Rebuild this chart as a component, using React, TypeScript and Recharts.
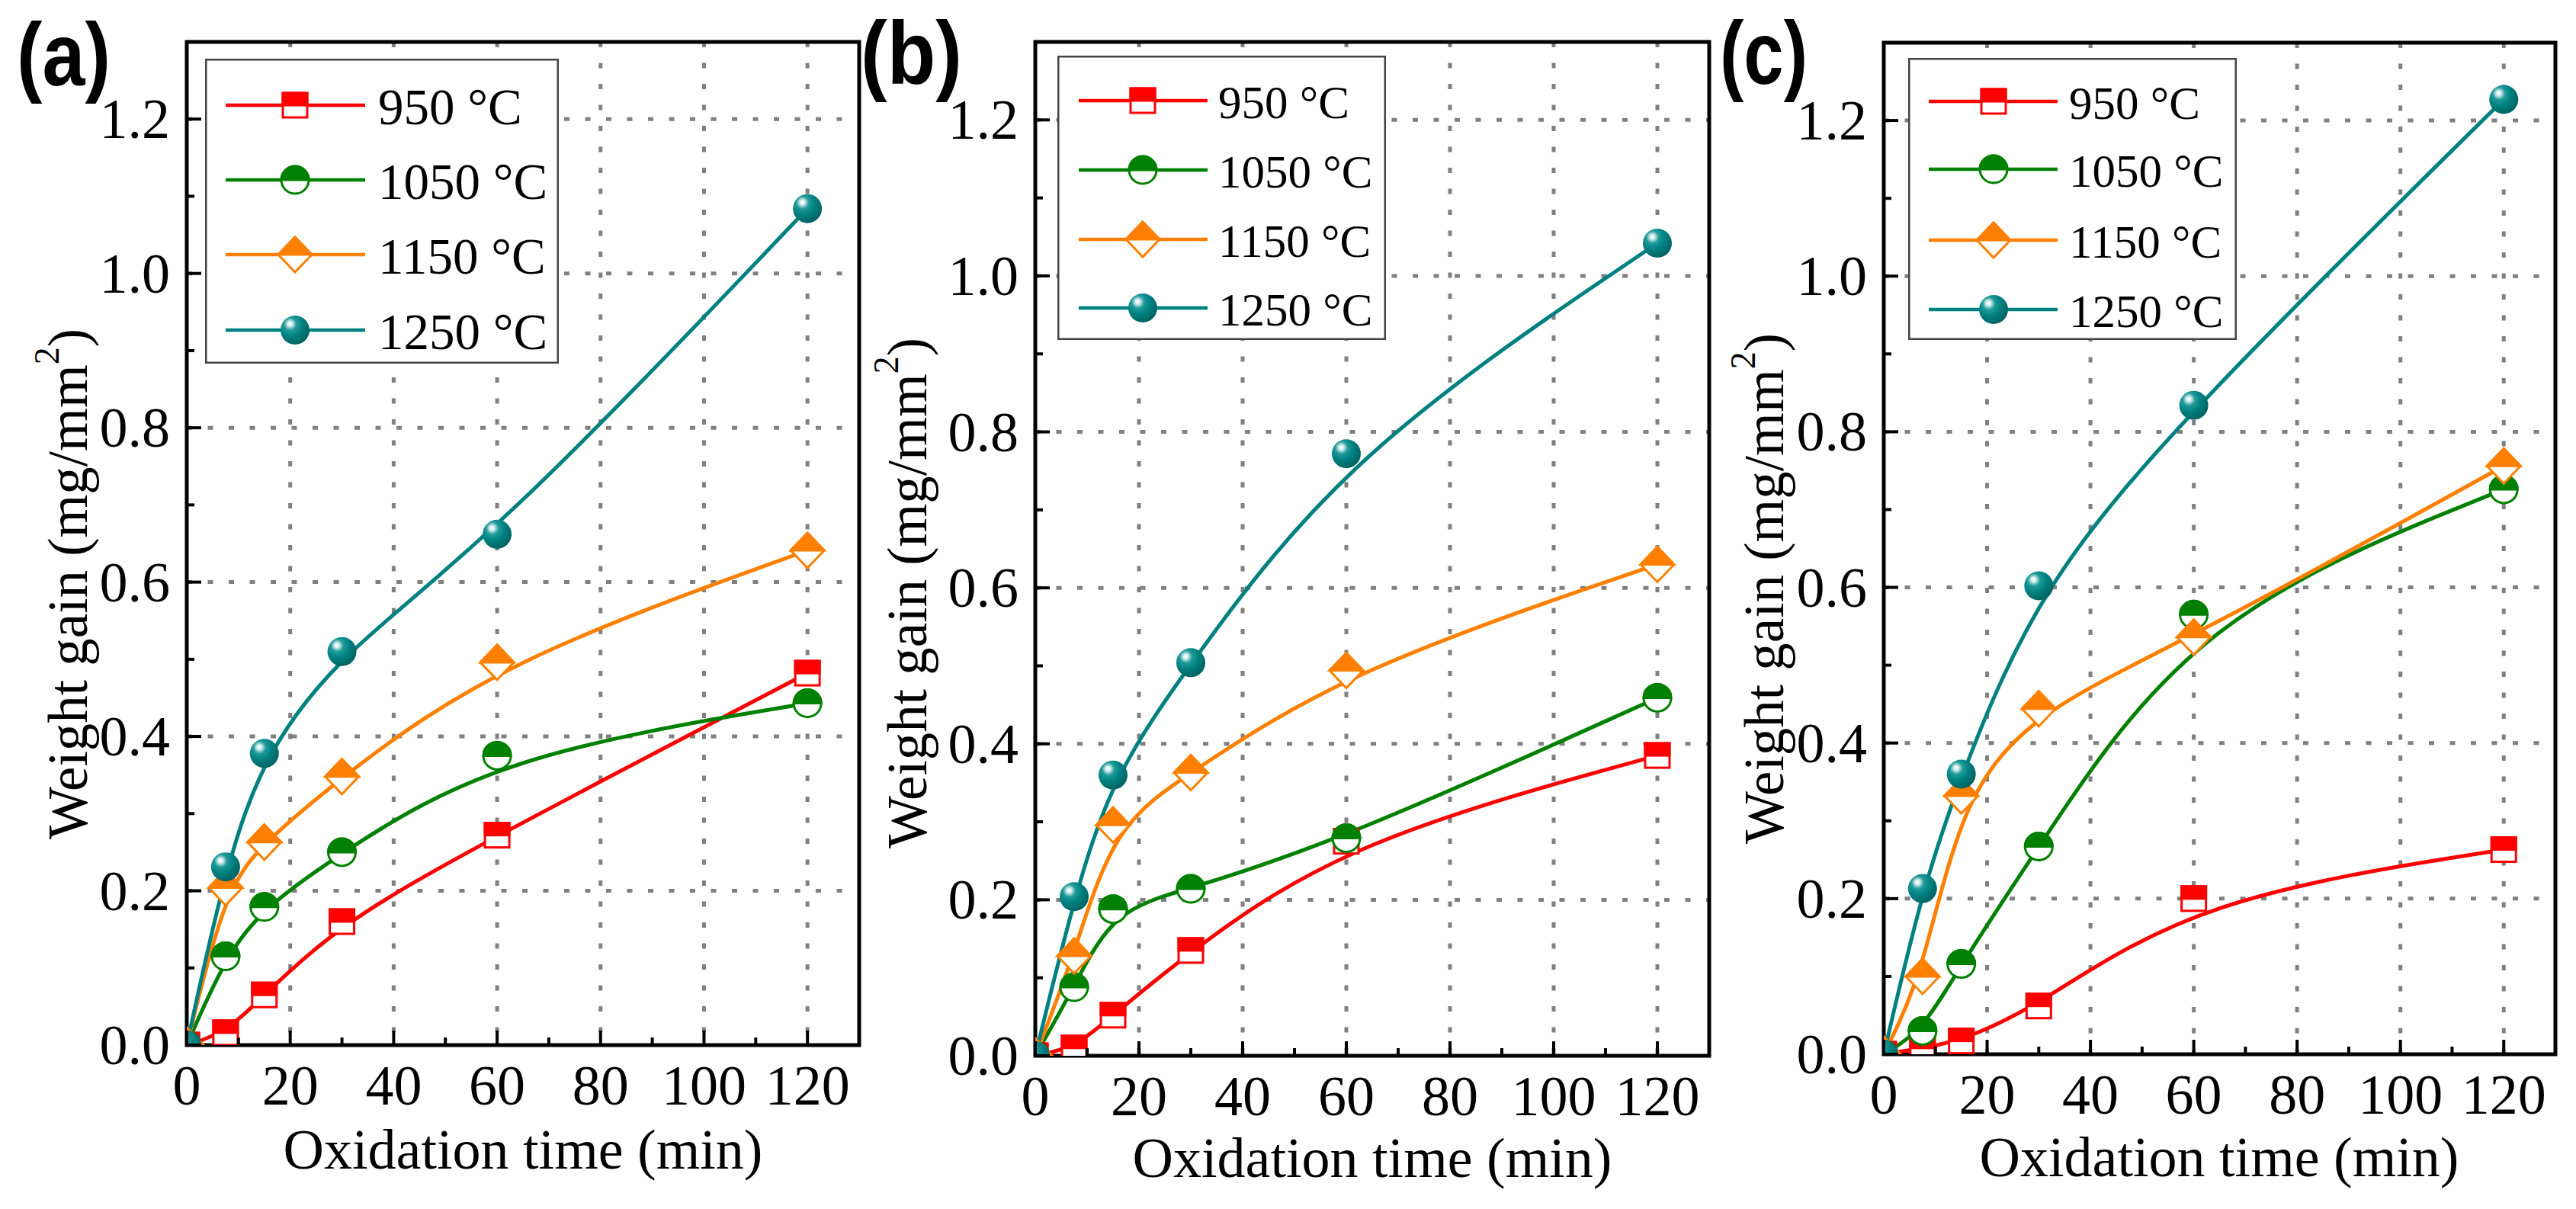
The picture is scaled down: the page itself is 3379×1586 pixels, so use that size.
import React from 'react';
import { LineChart, Line, XAxis, YAxis, CartesianGrid, ReferenceArea, Legend } from 'recharts';

// ---------- data ----------
const TIME = [0, 7.5, 15, 30, 60, 120];
const SERIES_NAMES = ['950 °C', '1050 °C', '1150 °C', '1250 °C'];
const SERIES_KEYS = ['s950', 's1050', 's1150', 's1250'];
const SERIES_COLORS = ['#FF0000', '#008000', '#FF8000', '#008080'];
const SERIES_MARKERS = ['square', 'circle', 'diamond', 'sphere'];

const A_950 = [0, 0.016, 0.065, 0.16, 0.272, 0.482];
const A_1050 = [0, 0.115, 0.179, 0.25, 0.375, 0.443];
const A_1150 = [0, 0.204, 0.263, 0.348, 0.496, 0.641];
const A_1250 = [0, 0.231, 0.378, 0.51, 0.662, 1.084];

const B_950 = [0, 0.01, 0.052, 0.135, 0.275, 0.385];
const B_1050 = [0, 0.088, 0.188, 0.214, 0.279, 0.459];
const B_1150 = [0, 0.128, 0.296, 0.363, 0.494, 0.63];
const B_1250 = [0, 0.204, 0.36, 0.504, 0.772, 1.042];

const C_950 = [0, 0.008, 0.017, 0.062, 0.2, 0.263];
const C_1050 = [0, 0.03, 0.116, 0.267, 0.565, 0.726];
const C_1150 = [0, 0.1, 0.332, 0.444, 0.536, 0.756];
const C_1250 = [0, 0.213, 0.36, 0.602, 0.834, 1.227];

const X_TICKS = [0, 10, 20, 30, 40, 50, 60, 70, 80, 90, 100, 110, 120];
const Y_TICKS = [0, 0.1, 0.2, 0.3, 0.4, 0.5, 0.6, 0.7, 0.8, 0.9, 1.0, 1.1, 1.2];
const GRID_X = [20, 40, 60, 80, 100, 120];
const GRID_Y = [0.2, 0.4, 0.6, 0.8, 1.0, 1.2];
const X_DOMAIN = [0, 130];
const Y_DOMAIN = [0, 1.3];

const X_TITLE = 'Oxidation time (min)';
const PANEL_LETTERS = ['(a)', '(b)', '(c)'];

function buildRows(series: number[][]) {
  return TIME.map((t, i) => {
    const row: any = { t };
    SERIES_KEYS.forEach((k, j) => {
      row[k] = series[j][i];
    });
    return row;
  });
}

const SERIF = "'Times New Roman', 'Liberation Serif', serif";

// ---------- markers ----------
function Marker({ kind, color, cx, cy, gid }: any) {
  if (cx == null || cy == null) return null;
  const sw = 3;
  if (kind === 'square') {
    const h = 16;
    return (
      <g>
        <rect x={cx - h} y={cy - h} width={2 * h} height={2 * h} fill="#fff" stroke={color} strokeWidth={sw} />
        <rect x={cx - h} y={cy - h} width={2 * h} height={h} fill={color} stroke={color} strokeWidth={sw} />
      </g>
    );
  }
  if (kind === 'circle') {
    const r = 18;
    return (
      <g>
        <circle cx={cx} cy={cy} r={r} fill="#fff" stroke={color} strokeWidth={sw} />
        <path d={`M ${cx - r} ${cy} A ${r} ${r} 0 0 1 ${cx + r} ${cy} Z`} fill={color} stroke={color} strokeWidth={sw} />
      </g>
    );
  }
  if (kind === 'diamond') {
    const w = 22;
    const h = 23;
    return (
      <g>
        <polygon points={`${cx},${cy - h} ${cx + w},${cy} ${cx},${cy + h} ${cx - w},${cy}`} fill="#fff" stroke={color} strokeWidth={sw} />
        <polygon points={`${cx},${cy - h} ${cx + w},${cy} ${cx - w},${cy}`} fill={color} stroke={color} strokeWidth={sw} />
      </g>
    );
  }
  // sphere
  const r = 19;
  return (
    <g>
      <defs>
        <radialGradient id={gid} cx="36%" cy="32%" r="68%" fx="32%" fy="28%">
          <stop offset="0%" stopColor="#ffffff" />
          <stop offset="12%" stopColor="#d8eeee" />
          <stop offset="32%" stopColor="#1f9a9a" />
          <stop offset="62%" stopColor="#008080" />
          <stop offset="100%" stopColor="#006464" />
        </radialGradient>
      </defs>
      <circle cx={cx} cy={cy} r={r} fill={`url(#${gid})`} />
    </g>
  );
}

// ---------- ticks ----------
function YTick(props: any) {
  const { x, y, payload } = props;
  const v = payload.value;
  const major = Math.round(v * 10) % 2 === 0;
  return (
    <g>
      <line x1={x} x2={x + (major ? 19 : 10)} y1={y} y2={y} stroke="#000" strokeWidth={4} />
      {major && (
        <text x={x - 22} y={y + 25} textAnchor="end" fontSize={74} fontFamily={SERIF} fill="#000">
          {v.toFixed(1)}
        </text>
      )}
    </g>
  );
}

function XTick(props: any) {
  const { x, y, payload } = props;
  const v = payload.value;
  const major = v % 20 === 0;
  return (
    <g>
      <line x1={x} x2={x} y1={y} y2={y - (major ? 19 : 10)} stroke="#000" strokeWidth={4} />
      {major && (
        <text x={x} y={y + 78} textAnchor="middle" fontSize={74} fontFamily={SERIF} fill="#000">
          {String(v)}
        </text>
      )}
    </g>
  );
}

function YTitle({ px, py }: any) {
  return (
    <text
      x={px}
      y={py}
      transform={`rotate(-90 ${px} ${py})`}
      textAnchor="middle"
      dominantBaseline="central"
      fontSize={73}
      fontFamily={SERIF}
      fill="#000"
    >
      Weight gain (mg/mm
      <tspan dy={-28} fontSize={46}>2</tspan>
      <tspan dy={28}>)</tspan>
    </text>
  );
}

function XTitle({ px, py }: any) {
  return (
    <text x={px} y={py} textAnchor="middle" fontSize={74} fontFamily={SERIF} fill="#000">
      {X_TITLE}
    </text>
  );
}

// ---------- legend ----------
function LegendBox({ cfg, pid }: any) {
  const { w, h, rows, lx1, lx2, mx, tx, fs } = cfg;
  return (
    <svg width={w} height={h} style={{ display: 'block' }}>
      <rect x={1.25} y={1.25} width={w - 2.5} height={h - 2.5} fill="#fff" stroke="#444" strokeWidth={2.5} />
      {SERIES_NAMES.map((name, i) => {
        const y = rows[i];
        return (
          <g key={name}>
            <line x1={lx1} x2={lx2} y1={y} y2={y} stroke={SERIES_COLORS[i]} strokeWidth={4.5} />
            <Marker kind={SERIES_MARKERS[i]} color={SERIES_COLORS[i]} cx={mx} cy={y} gid={`lg-${pid}-${i}`} />
            <text x={tx} y={y + fs * 0.37} fontSize={fs} fontFamily={SERIF} fill="#000">
              {name}
            </text>
          </g>
        );
      })}
    </svg>
  );
}

// ---------- panels ----------
// margins already account for the 1px axis sizes below
const PANELS = [
  {
    id: 'a',
    left: 0,
    width: 1135,
    margin: { top: 55, right: 8, bottom: 214, left: 244 },
    data: buildRows([A_950, A_1050, A_1150, A_1250]),
    legend: { left: 269, top: 77, w: 464, h: 400, rows: [61, 159, 257, 356], lx1: 27, lx2: 210, mx: 118, tx: 227, fs: 67 },
    yTitle: { x: 89, y: 766 },
    xTitle: { x: 686, y: 1533 },
  },
  {
    id: 'b',
    left: 1135,
    width: 1115,
    margin: { top: 55, right: 8, bottom: 200, left: 222 },
    data: buildRows([B_950, B_1050, B_1150, B_1250]),
    legend: { left: 252, top: 73, w: 431, h: 373, rows: [59, 150, 241, 331], lx1: 28, lx2: 197, mx: 112, tx: 211, fs: 61 },
    yTitle: { x: 55, y: 778 },
    xTitle: { x: 665, y: 1544 },
  },
  {
    id: 'c',
    left: 2250,
    width: 1129,
    margin: { top: 56, right: 27, bottom: 202, left: 220 },
    data: buildRows([C_950, C_1050, C_1150, C_1250]),
    legend: { left: 253, top: 76, w: 431, h: 370, rows: [57, 146, 239, 330], lx1: 27, lx2: 196, mx: 112, tx: 211, fs: 61 },
    yTitle: { x: 64, y: 772 },
    xTitle: { x: 661, y: 1543 },
  },
];

const LETTER_POS = [
  { x: 22, y: 112, len: 123 },
  { x: 1129, y: 110, len: 133 },
  { x: 2256, y: 110, len: 115 },
];

function Panel({ p }: any) {
  return (
    <div style={{ position: 'absolute', left: p.left, top: 0, width: p.width, height: 1586 }}>
      <LineChart width={p.width} height={1586} data={p.data} margin={p.margin}>
        <CartesianGrid
          horizontalValues={GRID_Y}
          verticalValues={GRID_X}
          stroke="#808080"
          strokeWidth={5}
          strokeDasharray="7 20.5"
        />
        <XAxis
          dataKey="t"
          type="number"
          domain={X_DOMAIN}
          ticks={X_TICKS}
          interval={0}
          allowDataOverflow
          height={1}
          tickSize={0}
          tickMargin={0}
          tickLine={false}
          axisLine={false}
          tick={<XTick />}
          label={<XTitle px={p.xTitle.x} py={p.xTitle.y} />}
        />
        <YAxis
          type="number"
          domain={Y_DOMAIN}
          ticks={Y_TICKS}
          interval={0}
          allowDataOverflow
          width={1}
          tickSize={0}
          tickMargin={0}
          tickLine={false}
          axisLine={false}
          tick={<YTick />}
          label={<YTitle px={p.yTitle.x} py={p.yTitle.y} />}
        />
        <ReferenceArea x1={0} x2={130} y1={0} y2={1.3} fill="none" fillOpacity={0} stroke="#000" strokeWidth={5} ifOverflow="visible" />
        {SERIES_KEYS.map((k, i) => (
          <Line
            key={k}
            type="basis"
            dataKey={k}
            name={SERIES_NAMES[i]}
            stroke={SERIES_COLORS[i]}
            strokeWidth={5}
            isAnimationActive={false}
            activeDot={false}
            dot={(dp: any) => (
              <Marker
                key={`d-${p.id}-${i}-${dp.index}`}
                kind={SERIES_MARKERS[i]}
                color={SERIES_COLORS[i]}
                cx={dp.cx}
                cy={dp.cy}
                gid={`sp-${p.id}-${i}-${dp.index}`}
              />
            )}
          />
        ))}
        <Legend
          layout="horizontal"
          align="center"
          verticalAlign="middle"
          wrapperStyle={{
            position: 'absolute',
            left: p.legend.left,
            top: p.legend.top,
            width: p.legend.w,
            height: p.legend.h,
            margin: 0,
            padding: 0,
          }}
          content={() => <LegendBox cfg={p.legend} pid={p.id} />}
        />
      </LineChart>
    </div>
  );
}

export default function App() {
  return (
    <div style={{ position: 'absolute', left: 0, top: 0, width: 3379, height: 1586, background: '#fff', overflow: 'hidden' }}>
      {PANELS.map((p) => (
        <Panel key={p.id} p={p} />
      ))}
      <svg width={3379} height={1586} style={{ position: 'absolute', left: 0, top: 0, pointerEvents: 'none' }}>
        {PANEL_LETTERS.map((t, i) => (
          <text
            key={t}
            x={LETTER_POS[i].x}
            y={LETTER_POS[i].y}
            fontSize={116}
            fontWeight="bold"
            fontFamily="'Liberation Sans', Arial, sans-serif"
            textLength={LETTER_POS[i].len}
            lengthAdjust="spacingAndGlyphs"
            fill="#000"
          >
            {t}
          </text>
        ))}
      </svg>
    </div>
  );
}
